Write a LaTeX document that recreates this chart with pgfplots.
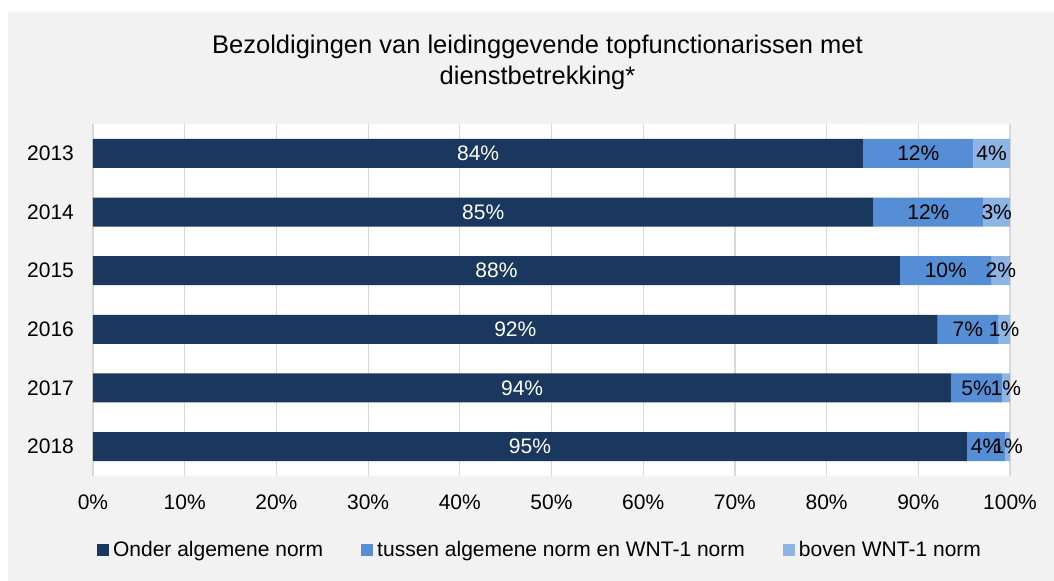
\documentclass[border=0pt]{standalone}
\usepackage{pgfplots}
\pgfplotsset{compat=1.18}
\usepackage{fontspec}
\setmainfont{Liberation Sans}
\definecolor{cDark}{HTML}{1A375E}
\definecolor{cMid}{HTML}{558ED5}
\definecolor{cLight}{HTML}{8EB4E3}
\definecolor{cBg}{HTML}{F2F2F2}
\definecolor{cGrid}{HTML}{D9D9D9}
\newcommand{\fs}{\fontsize{10.5}{12.6}\selectfont}
\begin{document}
\begin{tikzpicture}
\fill[white] (0pt,0pt) rectangle (527pt,290.5pt);
\fill[cBg] (4pt,0pt) rectangle (527pt,284.5pt);
\node[align=center, font=\fontsize{12.75}{15.5}\selectfont] at (268.75pt,259.25pt)
  {Bezoldigingen van leidinggevende topfunctionarissen met\\dienstbetrekking*};
\begin{axis}[
  at={(46.5pt,52.5pt)}, anchor=south west,
  width=458.5pt, height=176pt, scale only axis,
  xbar stacked, bar width=14.5pt,
  xmin=0, xmax=100, ymin=-0.5, ymax=5.5, y dir=reverse,
  axis line style={draw=none},
  axis background/.style={fill=white},
  xmajorgrids, grid style={cGrid, line width=0.6pt},
  xtick={0,10,...,100},
  xticklabels={0\%,10\%,20\%,30\%,40\%,50\%,60\%,70\%,80\%,90\%,100\%},
  ytick={0,1,2,3,4,5},
  yticklabels={2013,2014,2015,2016,2017,2018},
  major tick length=0pt,
  /pgf/number format/assume math mode=true,
  tick label style={font=\fs, text=black},
  xticklabel style={yshift=-6pt},
  yticklabel style={xshift=-6pt},
  nodes near coords,
  point meta=explicit symbolic,
  nodes near coords style={anchor=center, font=\fs},
  legend style={at={(0.4886,-0.2102)}, anchor=center, legend columns=3,
    draw=none, fill=none, font=\fs,
    /tikz/every even column/.append style={column sep=17pt}},
  legend image code/.code={\fill[#1] (0pt,-3pt) rectangle (6pt,3pt);},
]
\addplot[fill=cDark, draw=none, nodes near coords style={text=white}] coordinates {
(84.0,0) [84\%] (85.1,1) [85\%] (88.0,2) [88\%] (92.1,3) [92\%] (93.6,4) [94\%] (95.3,5) [95\%]};
\addplot[fill=cMid, draw=none, nodes near coords style={text=black}] coordinates {
(12.0,0) [12\%] (12.0,1) [12\%] (10.0,2) [10\%] (6.6,3) [7\%] (5.5,4) [5\%] (4.2,5) [4\%]};
\addplot[fill=cLight, draw=none, nodes near coords style={text=black}] coordinates {
(4.0,0) [4\%] (2.9,1) [3\%] (2.0,2) [2\%] (1.3,3) [1\%] (0.9,4) [1\%] (0.5,5) [1\%]};
\legend{Onder algemene norm, tussen algemene norm en WNT-1 norm, boven WNT-1 norm}
\end{axis}
\end{tikzpicture}
\end{document}
